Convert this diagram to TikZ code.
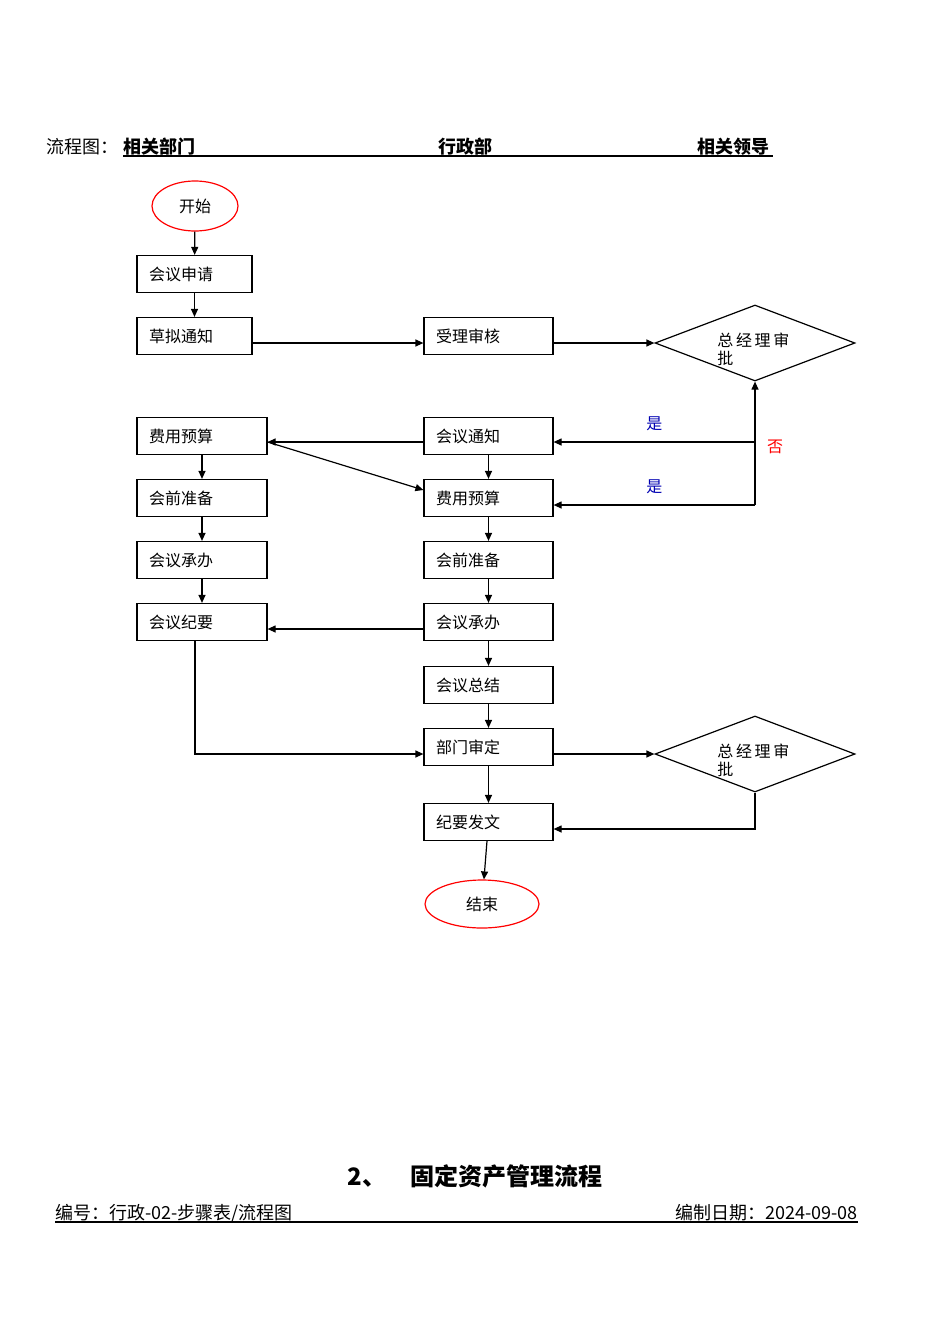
\documentclass[tikz,border=0pt]{standalone}
\usepackage{fontspec}
\setmainfont{Noto Sans CJK SC}
\usetikzlibrary{shapes.geometric, arrows, arrows.meta, positioning, calc}
\tikzstyle{arrow} = [semithick,-{Triangle[length=4pt,width=3.5pt]}]

\begin{document}
\begin{tikzpicture}[x=0.5pt, y=-0.5pt,
    box/.style={draw, semithick, minimum width=57.5pt, minimum height=18.5pt, inner xsep=6pt, text width=45.5pt, align=left, font=\fontsize{8pt}{9pt}\selectfont},
    wbox/.style={box, minimum width=65pt, text width=53pt},
    mbox/.style={box, minimum width=64.5pt, text width=52.5pt},
    term/.style={draw=red, ellipse, semithick, font=\fontsize{8pt}{9pt}\selectfont},
    judge/.style={draw, diamond, semithick, minimum width=100pt, minimum height=38pt, inner sep=0pt, aspect=2.6},
    note/.style={font=\fontsize{8pt}{9pt}\selectfont}]
    \useasboundingbox (0,0) rectangle (950,1344);

    % Header
    \node[anchor=base west, font=\fontsize{9pt}{10pt}\selectfont, inner sep=0] at (46,153) {流程图：};
    \node[anchor=base west, font=\fontsize{9pt}{10pt}\selectfont\bfseries, inner sep=0] at (123,153) {相关部门};
    \node[anchor=base west, font=\fontsize{9pt}{10pt}\selectfont\bfseries, inner sep=0] at (438,153) {行政部};
    \node[anchor=base west, font=\fontsize{9pt}{10pt}\selectfont\bfseries, inner sep=0] at (697,153) {相关领导};
    \draw[semithick] (123,156) -- (773,156);

    % Left column
    \node[term, minimum width=43pt, minimum height=25pt] (start) at (195,206) {开始};
    \node[box] (apply) at (194.5,274) {会议申请};
    \node[box] (draft) at (194.5,336) {草拟通知};
    \node[wbox] (costL) at (202,436) {费用预算};
    \node[wbox] (prepL) at (202,498) {会前准备};
    \node[wbox] (hostL) at (202,560) {会议承办};
    \node[wbox] (minL) at (202,622) {会议纪要};

    % Middle column
    \node[mbox] (accept) at (488.5,336) {受理审核};
    \node[mbox] (notice) at (488.5,436) {会议通知};
    \node[mbox] (costM) at (488.5,498) {费用预算};
    \node[mbox] (prepM) at (488.5,560) {会前准备};
    \node[mbox] (hostM) at (488.5,622) {会议承办};
    \node[mbox] (sum) at (488.5,685) {会议总结};
    \node[mbox] (dept) at (488.5,747) {部门审定};
    \node[mbox] (issue) at (488.5,822) {纪要发文};
    \node[term, minimum width=57pt, minimum height=24pt] (end) at (482,904) {结束};

    % Right column
    \node[judge] (gm1) at (755,343) {};
    \node[note, anchor=north west, align=left, inner sep=0] at (717,333) {总\,经\,理\,审\\批};
    \node[judge] (gm2) at (755,754) {};
    \node[note, anchor=north west, align=left, inner sep=0] at (717,744) {总\,经\,理\,审\\批};
    \coordinate (yes1) at (755,442);
    \coordinate (yes2) at (755,505);
    \coordinate (back) at (755,829);
    \coordinate (turn) at (195,754);

    % Edges
    \draw[arrow] (start) -- (apply);
    \draw[arrow] (apply) -- (draft);
    \draw[arrow] (draft.east |- 0,343) -- (accept.west |- 0,343);
    \draw[arrow] (accept.east |- 0,343) -- (gm1.west);
    \draw[arrow] (yes2) -- (gm1.south);
    \draw[arrow] (yes1) -- (notice.east |- yes1) node[midway, above=2pt, blue!70!black, note] {是};
    \draw[arrow] (yes2) -- (costM.east |- yes2) node[midway, above=2pt, blue!70!black, note] {是};
    \node[note, red] at (775,447) {否};
    \draw[arrow] (notice.west |- yes1) -- (costL.east |- yes1);
    \draw[arrow] (costL.east |- yes1) -- (costM.west |- 0,490);
    \draw[arrow] (costL) -- (prepL);
    \draw[arrow] (prepL) -- (hostL);
    \draw[arrow] (hostL) -- (minL);
    \draw[arrow] (notice) -- (costM);
    \draw[arrow] (costM) -- (prepM);
    \draw[arrow] (prepM) -- (hostM);
    \draw[arrow] (hostM) -- (sum);
    \draw[arrow] (sum) -- (dept);
    \draw[arrow] (hostM.west |- 0,629) -- (minL.east |- 0,629);
    \draw[arrow] (minL.south -| turn) -- (turn) -- (dept.west |- turn);
    \draw[arrow] (dept.east |- turn) -- (gm2.west);
    \draw[arrow] (gm2.south) -- (back) -- (issue.east |- back);
    \draw[arrow] (dept) -- (issue);
    \draw[arrow] (issue) -- (end);

    % Footer
    \node[font=\fontsize{12pt}{13pt}\selectfont\bfseries] at (475,1176) {2、\quad 固定资产管理流程};
    \node[anchor=base west, font=\fontsize{9pt}{10pt}\selectfont, inner sep=0] at (55,1219) {编号：行政-02-步骤表/流程图};
    \node[anchor=base east, font=\fontsize{9pt}{10pt}\selectfont, inner sep=0] at (858,1219) {编制日期：2024-09-08};
    \draw[semithick] (55,1222) -- (858,1222);
\end{tikzpicture}
\end{document}
